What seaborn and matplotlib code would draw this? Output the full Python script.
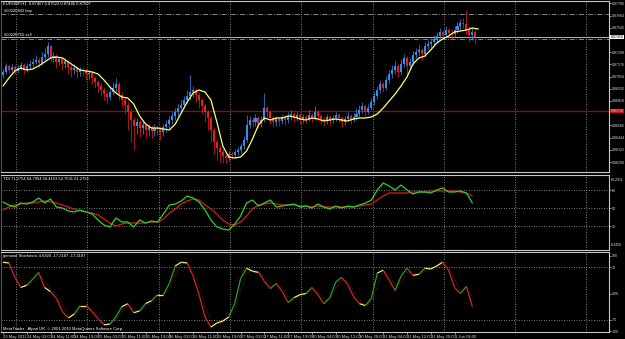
import numpy as np
import pandas as pd
import matplotlib
matplotlib.use("Agg")
import matplotlib.pyplot as plt
import matplotlib.transforms as mtransforms
from matplotlib.collections import LineCollection
import seaborn as sns

# ---------------- data ----------------
symbol = "EURGBP,H1"
ohlc_header = "0.87467 0.87522 0.87446 0.87507"
tdi_header = "TDI 71.2754 64.7954 56.4153 52.7531 61.2756"
stoch_header = "genuine Stochastic 4.6920 -17.2187 -17.2187"
copyright_text = "MetaTrader - Alpari UK, \u00a9 2001-2010 MetaQuotes Software Corp."
order_labels = ["#00220402 buy", "#00220755 sell"]
order_prices = [0.87680, 0.87435]
alert_price = 0.86710
time_labels = ["23 May 2011", "24 May 03:00", "24 May 11:00", "24 May 19:00",
               "25 May 03:00", "25 May 11:00", "25 May 19:00", "26 May 03:00",
               "26 May 11:00", "26 May 19:00", "27 May 03:00", "27 May 11:00",
               "27 May 19:00", "30 May 04:00", "30 May 12:00", "30 May 20:00",
               "31 May 04:00", "31 May 12:00", "31 May 20:00", "1 Jun 04:00"]

price_base = 0.8600          # prices below are given in pips above this base
first_open_pips = 107
close_pips = [110, 116, 112, 115, 111, 114, 117, 112, 116, 118,
              120, 122, 119, 125, 128, 136, 124, 126, 120, 123,
              118, 121, 115, 112, 114, 110, 112, 111, 108, 109,
              104, 100, 96, 92, 88, 85, 90, 94, 98, 87,
              82, 77, 70, 62, 56, 60, 54, 57, 52, 55,
              51, 54, 53, 50, 55, 58, 62, 66, 70, 74,
              77, 82, 86, 90, 92, 87, 82, 76, 70, 64,
              52, 40, 34, 30, 26, 24, 28, 27, 30, 32,
              36, 42, 57, 62, 60, 64, 58, 62, 74, 70,
              64, 60, 63, 61, 65, 62, 66, 68, 64, 67,
              62, 65, 63, 67, 64, 70, 66, 63, 61, 65,
              62, 64, 67, 64, 60, 63, 66, 62, 65, 68,
              72, 76, 70, 74, 80, 86, 92, 98, 94, 102,
              108, 112, 116, 110, 118, 124, 116, 120, 127, 130,
              132, 128, 136, 138, 140, 142, 146, 150, 147, 152,
              149, 148, 152, 156, 159, 158, 152, 147, 150, 145]
high_pips = [113, 119, 118, 118, 117, 117, 120, 119, 119, 122,
             124, 127, 125, 130, 134, 140, 137, 130, 128, 126,
             125, 124, 122, 117, 118, 116, 115, 115, 113, 112,
             111, 106, 102, 99, 95, 92, 96, 100, 104, 100,
             90, 85, 80, 73, 65, 64, 62, 61, 59, 58,
             57, 58, 57, 56, 58, 62, 66, 70, 74, 78,
             82, 86, 92, 107, 96, 94, 89, 84, 78, 72,
             66, 55, 43, 37, 33, 29, 31, 31, 33, 35,
             39, 46, 67, 66, 65, 68, 66, 66, 89, 76,
             72, 66, 66, 65, 68, 67, 70, 72, 70, 70,
             69, 68, 67, 72, 69, 76, 72, 68, 65, 68,
             67, 67, 70, 69, 66, 66, 70, 68, 69, 74,
             77, 80, 78, 78, 84, 90, 96, 102, 100, 106,
             112, 117, 121, 118, 123, 128, 126, 124, 131, 134,
             137, 134, 140, 142, 144, 147, 150, 154, 152, 156,
             154, 153, 156, 160, 163, 164, 172, 156, 154, 153]
low_pips = [104, 108, 109, 110, 108, 109, 112, 108, 110, 114,
            115, 118, 115, 117, 122, 125, 120, 120, 114, 117,
            112, 114, 108, 105, 108, 104, 106, 106, 102, 103,
            98, 94, 90, 86, 82, 78, 82, 87, 90, 82,
            75, 68, 52, 40, 32, 48, 45, 48, 44, 46,
            44, 46, 47, 42, 46, 50, 54, 58, 62, 66,
            70, 74, 78, 82, 85, 80, 74, 68, 60, 52,
            40, 28, 22, 20, 19, 19, 21, 23, 24, 27,
            29, 33, 40, 54, 55, 56, 54, 55, 60, 64,
            58, 55, 56, 56, 58, 57, 59, 62, 60, 61,
            58, 59, 59, 61, 60, 62, 61, 58, 56, 58,
            57, 59, 61, 60, 55, 57, 61, 58, 60, 62,
            65, 69, 66, 68, 72, 77, 83, 89, 90, 92,
            99, 104, 108, 105, 107, 115, 107, 112, 117, 124,
            126, 122, 125, 133, 134, 136, 139, 143, 143, 144,
            145, 143, 145, 149, 152, 154, 148, 140, 142, 138]
# moving average, one value every 2 bars (bars 0..160)
ma_pips = [96, 104, 111, 114, 112, 113, 116, 120, 124, 125,
           124, 120, 116, 112, 111, 110, 108, 102, 95, 89,
           85, 84, 78, 66, 58, 54, 54, 53, 52, 58,
           69, 80, 89, 92, 90, 82, 60, 36, 25, 24,
           25, 31, 43, 57, 64, 62, 64, 64, 66, 65,
           63, 62, 64, 63, 61, 62, 63, 62, 61, 63,
           64, 64, 65, 68, 74, 81, 88, 96, 105, 118,
           124, 126, 132, 139, 143, 146, 150, 151, 152, 154, 153]
# TDI, one value every 2 bars (bars 0..158)
tdi_price = [56, 53, 51, 55, 54, 56, 60, 55, 59, 51,
             50, 47, 46, 48, 46, 44, 38, 33, 31, 40,
             36, 36, 31, 38, 35, 37, 36, 44, 53, 54,
             57, 62, 60, 56, 48, 38, 31, 29, 28, 34,
             42, 55, 58, 52, 55, 58, 51, 52, 53, 54,
             51, 52, 50, 54, 51, 49, 52, 50, 52, 51,
             53, 55, 58, 68, 75, 72, 68, 73, 68, 64,
             66, 66, 65, 68, 70, 66, 66, 67, 65, 55]
tdi_signal = [48, 51, 53, 54, 55, 55, 56, 57, 56, 55,
              53, 51, 49, 47, 46, 45, 43, 39, 35, 32,
              34, 35, 35, 35, 35, 36, 36, 39, 45, 49,
              54, 57, 59, 58, 53, 49, 44, 38, 34, 33,
              36, 42, 49, 53, 54, 55, 54, 53, 53, 53,
              52, 52, 51, 52, 51, 51, 51, 51, 51, 51,
              52, 53, 54, 58, 62, 65, 65, 65, 65, 66,
              66, 66, 67, 67, 67, 67, 67, 66, 65, 62]
tdi_levels = [32, 50, 68]
# Stochastic, one value every 2 bars (bars 0..158)
stoch_main = [83, 81, 43, 16, 22, 38, 56, 16, 5, -13,
              -48, -65, -54, -32, -32, -48, -67, -83, -81, -62,
              -35, -27, -51, -46, -27, -19, -3, -3, 27, 73,
              83, 81, 46, -3, -62, -89, -78, -73, -62, -27,
              40, 67, 59, 56, 32, 13, 27, 5, -24, -11,
              -3, 0, 16, -3, -27, -11, 30, 43, 24, -8,
              -27, -32, -13, 54, 62, 35, 8, 46, 67, 48,
              51, 67, 65, 73, 83, 62, 16, 0, 19, -35]
stoch_signal = [80, 82, 62, 30, 19, 30, 47, 36, 10, -4,
                -30, -56, -60, -43, -32, -40, -58, -75, -82, -72,
                -48, -31, -39, -48, -36, -23, -11, -3, 12, 50,
                78, 82, 64, 22, -32, -75, -84, -76, -68, -45,
                6, 54, 63, 58, 44, 22, 20, 16, -10, -18,
                -7, -2, 8, 6, -15, -19, 10, 36, 34, 8,
                -18, -30, -22, 20, 58, 48, 22, 27, 56, 58,
                50, 59, 66, 69, 78, 72, 39, 8, 10, -8]
stoch_levels = [70, -70]

# ---------------- styling ----------------
sns.set_theme(style="dark", rc={
    "figure.facecolor": "black", "axes.facecolor": "black",
    "axes.edgecolor": "#c8c8c8", "text.color": "white",
    "xtick.color": "#d0d0d0", "ytick.color": "#d0d0d0",
    "axes.grid": False, "axes.linewidth": 0.8,
})
plt.rcParams["font.family"] = ["Liberation Sans Narrow", "Liberation Sans", "DejaVu Sans"]

W, H = 625, 339
fig = plt.figure(figsize=(W / 100, H / 100), dpi=100)
RIGHT = 609


def panel(top, bottom):
    return fig.add_axes([1 / W, (H - bottom) / H, (RIGHT - 1) / W, (bottom - top) / H])


ax_m = panel(1, 172)
ax_t = panel(175, 250)
ax_s = panel(252, 332)

FS = 3.0
YFS = 2.6
bars = np.arange(len(close_pips))
xlim = (-0.67, 204.0)
grid_bars = np.arange(4.4, 204, 24.0)

close = price_base + np.array(close_pips) * 1e-4
high = price_base + np.array(high_pips) * 1e-4
low = price_base + np.array(low_pips) * 1e-4
open_ = np.concatenate([[price_base + first_open_pips * 1e-4], close[:-1]])

for ax in (ax_m, ax_t, ax_s):
    ax.set_xlim(*xlim)
    ax.set_facecolor("black")
    for s in ("top", "bottom", "left", "right"):
        ax.spines[s].set_color("#c8c8c8")
        ax.spines[s].set_linewidth(0.8)
    ax.spines["left"].set_color("#555555")
    for gb in grid_bars:
        ax.axvline(gb, color="#a8a8a8", lw=0.6, ls=(0, (1, 2)), zorder=0)
    ax.yaxis.tick_right()
    ax.tick_params(axis="y", length=1.2, width=0.5, labelsize=YFS, pad=0.6,
                   colors="#d8d8d8", right=True, left=False)
    ax.set_xticks([])
    ax.set_xlabel("")
    ax.set_ylabel("")

# ---- main price panel ----
up = close >= open_
col = np.where(up, "#2f8ff0", "#ee1c1c")
ax_m.vlines(bars, low, high, colors=col, lw=0.6, alpha=0.85, zorder=2)
body_bottom = np.minimum(open_, close)
body_h = np.maximum(np.abs(close - open_), 0.00005)
ax_m.bar(bars, body_h, bottom=body_bottom, width=0.68, color=col, linewidth=0, zorder=3)

ma_bars = np.arange(0, 2 * len(ma_pips), 2)
ma_df = pd.DataFrame({"bar": ma_bars, "ma": price_base + np.array(ma_pips) * 1e-4})
sns.lineplot(data=ma_df, x="bar", y="ma", ax=ax_m, color="#ffff70", lw=0.9, zorder=4)

last = close[-1]
ax_m.set_ylim(0.8610, 0.8781)
ax_m.set_xlim(*xlim)
ax_m.set_xlabel("")
ax_m.set_ylabel("")
ticks = np.arange(0.86200, 0.8781, 0.00122)
ticks = [t for t in ticks if abs(t - last) > 0.0006 and abs(t - alert_price) > 0.0006]
ax_m.set_yticks(ticks)
ax_m.set_yticklabels([f"{t:.5f}" for t in ticks])

for lbl, pr in zip(order_labels, order_prices):
    ax_m.axhline(pr, color="#9a9a9a", lw=0.6, ls=(0, (6, 2, 1, 2)), zorder=1)
    ax_m.text(0.5, pr + 0.00012, lbl, fontsize=FS, color="white", va="bottom", ha="left")
ax_m.axhline(last, color="#b4b4b4", lw=0.7, zorder=1)
ax_m.axhline(alert_price, color="#b00000", lw=0.9, zorder=1)
trans = mtransforms.blended_transform_factory(ax_m.transAxes, ax_m.transData)
ax_m.text(1.003, last, f"{last:.5f}", transform=trans, fontsize=YFS, color="black",
          va="center", ha="left",
          bbox=dict(facecolor="white", edgecolor="none", pad=0.3))
ax_m.text(1.003, alert_price, f"{alert_price:.5f}", transform=trans, fontsize=YFS,
          color="#ffb0b0", va="center", ha="left",
          bbox=dict(facecolor="#d01010", edgecolor="none", pad=0.3))
ax_m.text(0.004, 0.995, f"{symbol}  {ohlc_header}", transform=ax_m.transAxes,
          fontsize=FS, color="white", va="top", ha="left")

# ---- TDI panel ----
ind_bars = np.arange(0, 2 * len(tdi_price), 2)
tdi_df = pd.DataFrame({"bar": ind_bars, "price": tdi_price, "signal": tdi_signal})
for lv in tdi_levels:
    ax_t.axhline(lv, color="#a8a8a8", lw=0.6, ls=(0, (1, 2)), zorder=0)
sns.lineplot(data=tdi_df, x="bar", y="signal", ax=ax_t, color="#d02020", lw=0.9)
sns.lineplot(data=tdi_df, x="bar", y="price", ax=ax_t, color="#30d030", lw=0.9)
ax_t.set_ylim(8, 83)
ax_t.set_xlim(*xlim)
ax_t.set_xlabel("")
ax_t.set_ylabel("")
ax_t.set_yticks(tdi_levels)
ax_t.set_yticklabels([str(v) for v in tdi_levels])
ax_t.text(1.003, 0.93, "80.2011", transform=ax_t.transAxes, fontsize=YFS, color="#d8d8d8", va="center")
ax_t.text(1.003, 0.07, "6.3450", transform=ax_t.transAxes, fontsize=YFS, color="#d8d8d8", va="center")
ax_t.text(0.004, 0.97, tdi_header, transform=ax_t.transAxes, fontsize=FS, color="white", va="top")

# ---- Stochastic panel ----
for lv in stoch_levels:
    ax_s.axhline(lv, color="#a8a8a8", lw=0.6, ls=(0, (1, 2)), zorder=0)
sig_df = pd.DataFrame({"bar": ind_bars, "sig": stoch_signal})
sns.lineplot(data=sig_df, x="bar", y="sig", ax=ax_s, color="#8a2020", lw=0.6, ls=(0, (1, 1.5)))
sm = np.array(stoch_main, dtype=float)
pts = np.column_stack([ind_bars, sm])
segs = np.stack([pts[:-1], pts[1:]], axis=1)
d = np.diff(sm)
seg_col = np.where(d > 12, "#2aa02a", np.where(d < -12, "#d02828", "#f0f060"))
ax_s.add_collection(LineCollection(segs, colors=seg_col, linewidths=0.9, zorder=3))
ax_s.set_ylim(-102, 110)
ax_s.set_xlim(*xlim)
ax_s.set_xlabel("")
ax_s.set_ylabel("")
ax_s.set_yticks([100, 70, 0, -70, -100])
ax_s.set_yticklabels(["100", "70", "0.00", "-70", "-100"])
ax_s.text(0.004, 0.97, stoch_header, transform=ax_s.transAxes, fontsize=FS, color="white", va="top")
ax_s.text(0.004, 0.012, copyright_text, transform=ax_s.transAxes, fontsize=FS, color="white", va="bottom")

label_bars = np.arange(0, 8 * len(time_labels), 8)
ax_s.set_xticks(label_bars)
ax_s.set_xticklabels(time_labels, ha="left")
ax_s.tick_params(axis="x", length=1.5, width=0.5, labelsize=FS, pad=0.8, colors="#d8d8d8", bottom=True)

fig.savefig("out.png", dpi=100, facecolor="black")
